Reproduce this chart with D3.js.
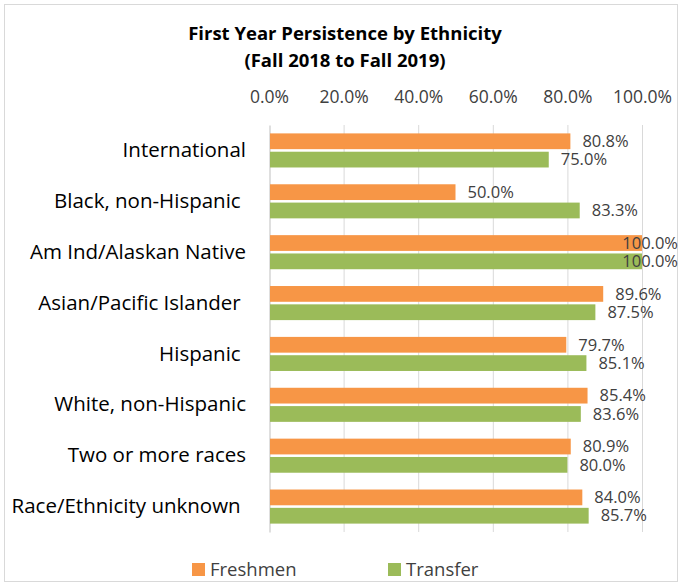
<!DOCTYPE html>
<html>
<head>
<meta charset="utf-8">
<script src="https://cdn.jsdelivr.net/npm/d3@7"></script>
<style>
  body { margin: 0; background: #fff; }
  text { font-family: "Open Sans", Lato, sans-serif; }
</style>
</head>
<body>
<div id="chart"></div>
<script>
// chart data
var categories = ["International", "Black, non-Hispanic ", "Am Ind/Alaskan Native",
  "Asian/Pacific Islander ", "Hispanic ", "White, non-Hispanic", "Two or more races",
  "Race/Ethnicity unknown "];
var freshmen = [0.808, 0.500, 1.000, 0.896, 0.797, 0.854, 0.809, 0.840];
var transfer = [0.750, 0.833, 1.000, 0.875, 0.851, 0.836, 0.800, 0.857];
var seriesNames = ["Freshmen", "Transfer"];
var seriesColors = ["#F79646", "#9BBB59"];
var tickValues = [0, 0.2, 0.4, 0.6, 0.8, 1.0];

var svgWidth = 682;
var svgHeight = 586;

var margin = { top: 125, right: 40, bottom: 54, left: 269 };
var width = 642 - margin.left;
var height = 532 - margin.top;

var svg = d3.select("#chart")
  .append("svg")
  .attr("width", svgWidth)
  .attr("height", svgHeight);

// chart border
svg.append("rect")
  .attr("x", 4.5).attr("y", 4.5)
  .attr("width", svgWidth - 9).attr("height", svgHeight - 9)
  .attr("fill", "#fff")
  .attr("stroke", "#d9d9d9");

// title
var title = svg.append("text")
  .attr("text-anchor", "middle")
  .style("font-weight", "bold")
  .style("font-size", "18.5px")
  .attr("fill", "#000");
title.append("tspan").attr("x", 345).attr("y", 40).text("First Year Persistence by Ethnicity");
title.append("tspan").attr("x", 345).attr("y", 67).text("(Fall 2018 to Fall 2019)");

var chartGroup = svg.append("g")
  .attr("transform", `translate(${margin.left}, ${margin.top})`);

var xScale = d3.scaleLinear().domain([0, 1]).range([0, width]);

var yScale = d3.scaleBand()
  .domain(categories)
  .range([0, height])
  .paddingInner(0.33)
  .paddingOuter(0.165);

var innerScale = d3.scaleBand()
  .domain(seriesNames)
  .range([0, yScale.bandwidth()])
  .paddingInner(0.14);

// gridlines
chartGroup.append("g")
  .selectAll("line")
  .data(tickValues.slice(1))
  .enter()
  .append("line")
  .attr("x1", d => xScale(d) + 0.5)
  .attr("x2", d => xScale(d) + 0.5)
  .attr("y1", 0)
  .attr("y2", height)
  .attr("stroke", "#d9d9d9");

// top axis labels
var topAxis = d3.axisTop(xScale)
  .tickValues(tickValues)
  .tickFormat(d3.format(".1%"))
  .tickSize(0)
  .tickPadding(22);

var xAxis = chartGroup.append("g").call(topAxis);
xAxis.select(".domain").remove();
xAxis.selectAll("text")
  .attr("fill", "#404040")
  .style("font-size", "17.5px")
  .style("font-family", "'Open Sans', sans-serif");

// left axis
var leftAxis = d3.axisLeft(yScale).tickSize(0).tickPadding(23);
var yAxis = chartGroup.append("g").call(leftAxis);
yAxis.select(".domain").attr("stroke", "#bfbfbf").attr("transform", "translate(0.5,0)");
yAxis.selectAll("text")
  .attr("fill", "#000")
  .style("font-size", "20.5px")
  .style("font-family", "'Open Sans', sans-serif")
  .style("white-space", "pre");

// bars
var rows = categories.map((c, i) => ({ cat: c, values: [freshmen[i], transfer[i]] }));

var rowGroups = chartGroup.selectAll(".row")
  .data(rows)
  .enter()
  .append("g")
  .attr("transform", d => `translate(0, ${yScale(d.cat)})`);

rowGroups.selectAll("rect")
  .data(d => d.values.map((v, j) => ({ name: seriesNames[j], value: v, color: seriesColors[j] })))
  .enter()
  .append("rect")
  .attr("x", 1)
  .attr("y", d => innerScale(d.name))
  .attr("width", d => xScale(d.value) - 1)
  .attr("height", innerScale.bandwidth())
  .attr("fill", d => d.color);

// value labels
var limit = 678 - margin.left;
rowGroups.selectAll(".val")
  .data(d => d.values.map((v, j) => ({ name: seriesNames[j], value: v })))
  .enter()
  .append("text")
  .attr("class", "val")
  .attr("y", d => innerScale(d.name) + innerScale.bandwidth() / 2)
  .attr("dy", "0.35em")
  .attr("fill", "#404040")
  .style("font-size", "16.5px")
  .text(d => d3.format(".1%")(d.value))
  .each(function(d) {
    var w = this.getComputedTextLength();
    var x = xScale(d.value) + 12;
    if (x + w > limit) x = limit - w;
    d3.select(this).attr("x", x);
  });

// legend
var legendX = [192, 388];
var legend = svg.selectAll(".legend")
  .data(seriesNames)
  .enter()
  .append("g")
  .attr("transform", (d, i) => `translate(${legendX[i]}, 563)`);

legend.append("rect")
  .attr("width", 13)
  .attr("height", 13)
  .attr("fill", (d, i) => seriesColors[i]);

legend.append("text")
  .attr("x", 18)
  .attr("y", 6.5)
  .attr("dy", "0.35em")
  .attr("fill", "#404040")
  .style("font-size", "18.5px")
  .text(d => d);
</script>
</body>
</html>
